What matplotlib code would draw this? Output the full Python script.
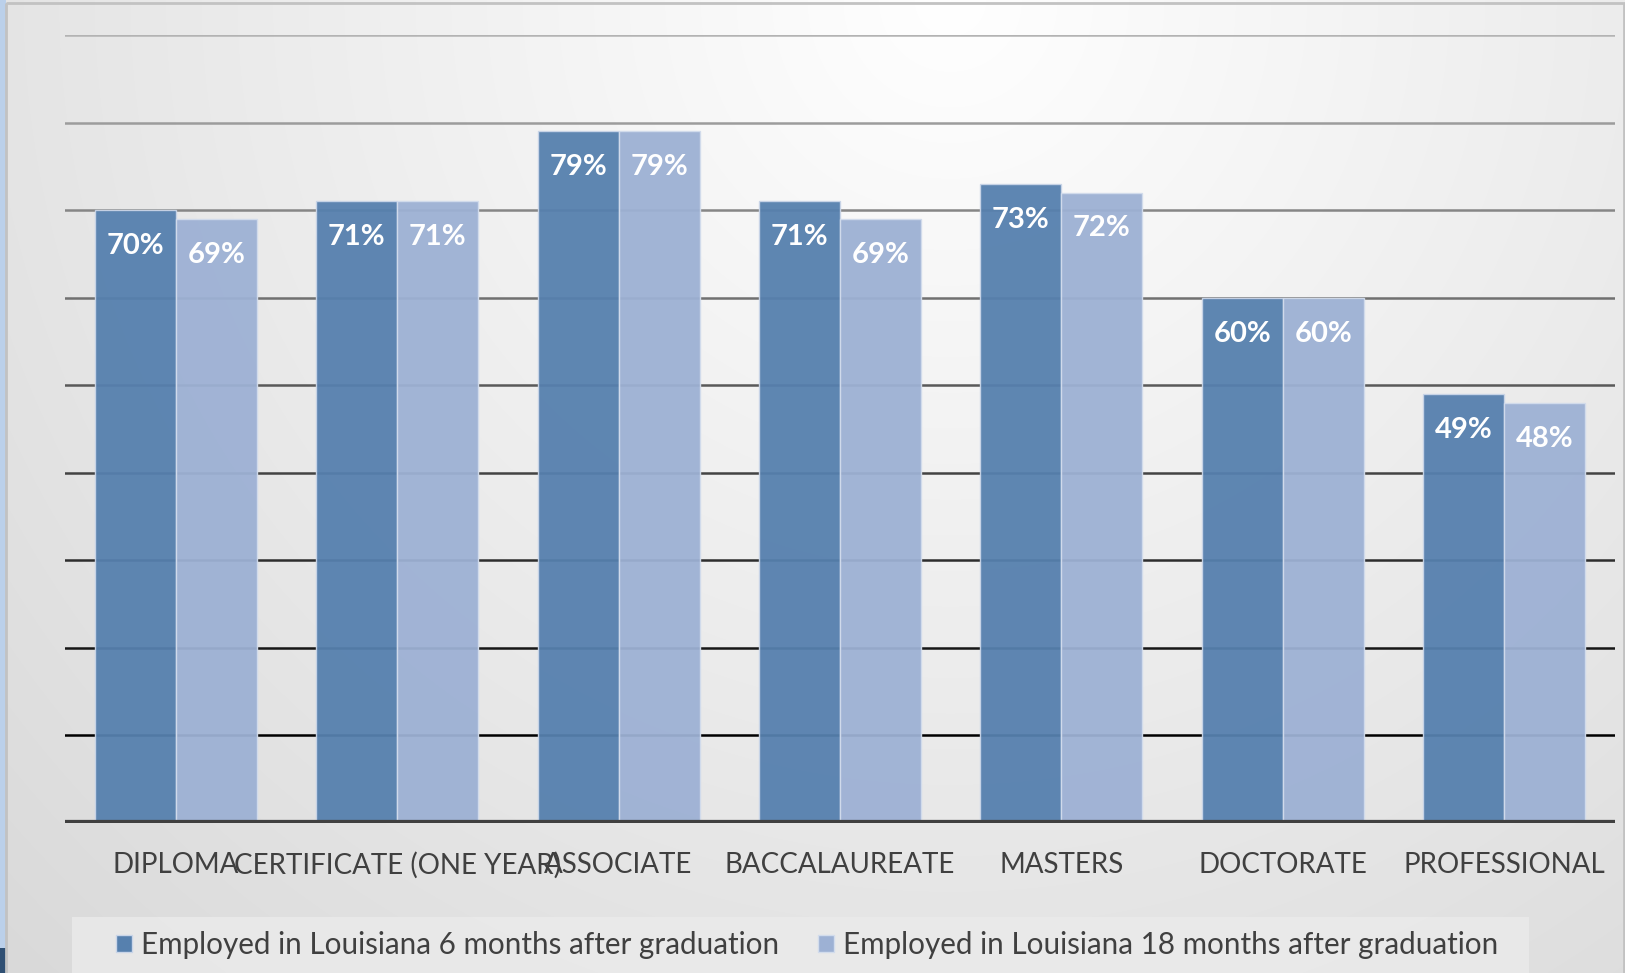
import matplotlib
matplotlib.use("Agg")
import matplotlib.pyplot as plt
from matplotlib.patches import Rectangle, Patch
import numpy as np

categories = ["DIPLOMA", "CERTIFICATE (ONE YEAR)", "ASSOCIATE", "BACCALAUREATE",
              "MASTERS", "DOCTORATE", "PROFESSIONAL"]
six_months = [70, 71, 79, 71, 73, 60, 49]
eighteen_months = [69, 71, 79, 69, 72, 60, 48]
series_names = ["Employed in Louisiana 6 months after graduation",
                "Employed in Louisiana 18 months after graduation"]
gridline_values = [10, 20, 30, 40, 50, 60, 70, 80, 90]

W, H = 1625, 973
dark = "#5680AE"
light = "#9DB1D4"
text_col = "#404040"
font = "Lato"

plt.rcParams["font.family"] = [font, "DejaVu Sans"]

fig = plt.figure(figsize=(W / 100, H / 100), dpi=100)

# background: slide strip + light gradient inside a gray frame
bg = fig.add_axes([0, 0, 1, 1], zorder=-10)
yy, xx = np.mgrid[0:H, 0:W]
d = np.hypot(xx - 950, yy * 1.0)
v = 1.0 - 0.11 * d / 1000.0
img = np.dstack([v, v, v])
bg.imshow(img, extent=[0, W, H, 0], aspect="auto")
bg.add_patch(Rectangle((0, 0), 6, H, color="#BBD0EA", lw=0))
bg.add_patch(Rectangle((0, 948), 6, 25, color="#2F4F73", lw=0))
bg.add_patch(Rectangle((6, 3), W - 7, H, fill=False, ec="#C2C2C2", lw=2))
bg.add_patch(Rectangle((72, 917), 1529 - 72, H - 917 + 5, color="#EBEBEB", lw=0, alpha=0.8))
bg.set_xlim(0, W)
bg.set_ylim(H, 0)
bg.axis("off")

ax = fig.add_axes([65 / W, (H - 823) / H, (1615 - 65) / W, (823 - 35) / H])
ax.patch.set_alpha(0)

x = np.arange(len(categories))
bw = 0.366

# gridlines fade from gray at the top to black near the bottom
grays = np.linspace(0.0, 0.70, len(gridline_values))
for val, g in zip(gridline_values, grays):
    ax.axhline(val, color=(g, g, g), lw=1.8, zorder=1)

b1 = ax.bar(x - bw / 2, six_months, bw, color=dark, edgecolor="#C9D5E8", lw=1.0,
            alpha=0.95, zorder=2, label=series_names[0])
b2 = ax.bar(x + bw / 2, eighteen_months, bw, color=light, edgecolor="#D2DCEC", lw=1.0,
            alpha=0.95, zorder=2, label=series_names[1])

for bars, vals in ((b1, six_months), (b2, eighteen_months)):
    for rect, val in zip(bars, vals):
        ax.text(rect.get_x() + rect.get_width() / 2, val - 4.1, f"{val}%",
                ha="center", va="center", color="white", fontsize=21,
                fontweight="bold", zorder=3)

ax.axhline(0, color="#404040", lw=4.5, zorder=4)

ax.set_xlim(-0.5, len(categories) - 0.5)
ax.set_ylim(0, 90)
ax.set_yticks([])
ax.set_xticks(x)
ax.set_xticklabels(categories, fontsize=20, color=text_col)
ax.tick_params(axis="x", length=0, pad=21)
for s in ax.spines.values():
    s.set_visible(False)

handles = [Patch(facecolor=dark, edgecolor="#C9D5E8", lw=1),
           Patch(facecolor=light, edgecolor="#D2DCEC", lw=1)]
fig.legend(handles, series_names, loc="center left",
           bbox_to_anchor=(116 / W, (H - 945) / H), ncol=2, frameon=False,
           fontsize=21.35, labelcolor=text_col, handlelength=0.55, handleheight=0.55,
           handletextpad=0.3, columnspacing=1.29, borderpad=0, borderaxespad=0)

fig.savefig("out.png", dpi=100)
